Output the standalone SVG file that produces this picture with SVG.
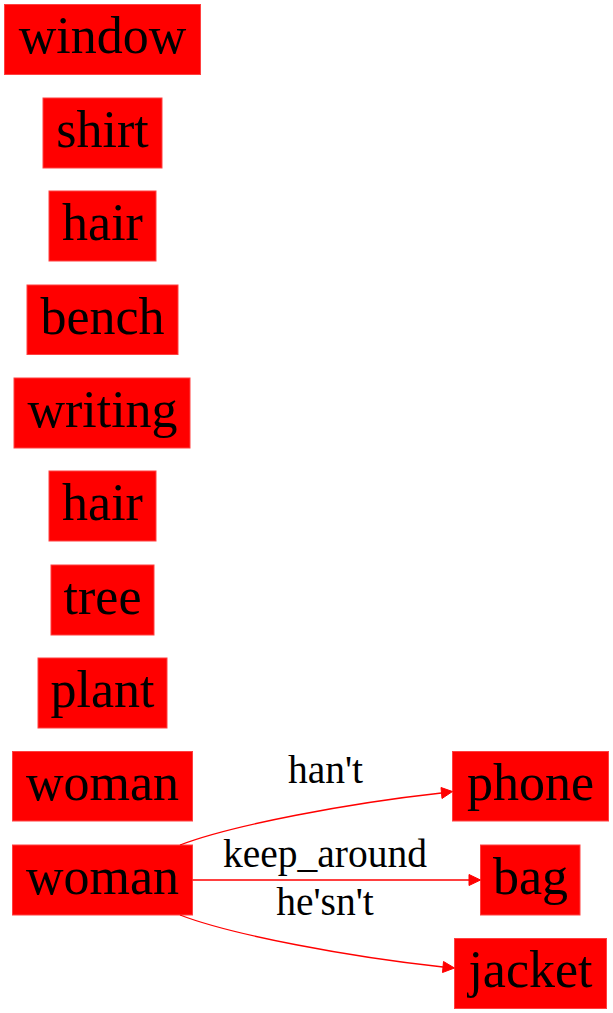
<svg xmlns="http://www.w3.org/2000/svg" width="613" height="1013" viewBox="0 0 613 1013">
<style>
.n rect{fill:#ff0000;stroke:#ff4040;stroke-width:1}
.n text{font-size:52px;text-anchor:middle;fill:#000}
.e path{fill:none;stroke:#ff0000;stroke-width:1.3}
.e polygon{fill:#ff0000;stroke:#ff0000;stroke-width:1}
.e text{font-size:39.5px;text-anchor:middle;fill:#000}
</style>
<rect width="613" height="1013" fill="#fff"/>
<g font-family="Liberation Serif, Times New Roman, DejaVu Serif, serif">
<g id="window" class="n"><rect x="4.5" y="4.5" width="196" height="70"/><text x="102.5" y="53">window</text></g>
<g id="shirt" class="n"><rect x="43" y="98" width="119" height="70"/><text x="102.5" y="147">shirt</text></g>
<g id="hair1" class="n"><rect x="49" y="191" width="107" height="70"/><text x="102.5" y="240">hair</text></g>
<g id="bench" class="n"><rect x="27" y="285" width="151" height="69.5"/><text x="102.5" y="333.5">bench</text></g>
<g id="writing" class="n"><rect x="14" y="378" width="176" height="70"/><text x="102.5" y="427">writing</text></g>
<g id="hair2" class="n"><rect x="49" y="471" width="107" height="70"/><text x="102.5" y="520">hair</text></g>
<g id="tree" class="n"><rect x="51" y="565" width="103" height="70"/><text x="102.5" y="613.5">tree</text></g>
<g id="plant" class="n"><rect x="38" y="658" width="129" height="70"/><text x="102.5" y="707">plant</text></g>
<g id="woman1" class="n"><rect x="12.5" y="751.5" width="180" height="69.5"/><text x="102.5" y="800">woman</text></g>
<g id="woman2" class="n"><rect x="12.5" y="845" width="180" height="70"/><text x="102.5" y="894">woman</text></g>
<g id="phone" class="n"><rect x="452.5" y="751.5" width="156" height="69.5"/><text x="530.5" y="800">phone</text></g>
<g id="bag" class="n"><rect x="480.5" y="845" width="99.5" height="70"/><text x="530.5" y="894">bag</text></g>
<g id="jacket" class="n"><rect x="454.5" y="938.5" width="152" height="70"/><text x="530.5" y="987">jacket</text></g>
<g id="edges" class="e">
<path d="M180,845 C232,825 350,803 441.5,793"/>
<polygon points="441,787.5 452.5,791.5 442,798.5"/>
<text x="325.5" y="783">han't</text>
<path d="M192.5,880 L469,880"/>
<polygon points="469,874.5 480.5,880 469,885.5"/>
<text x="325" y="867">keep_around</text>
<path d="M180,915 C232,935 350,957 443,967"/>
<polygon points="443.5,961.5 454.5,968 442.5,972.5"/>
<text x="325" y="915">he'sn't</text>
</g>
</g>
</svg>
